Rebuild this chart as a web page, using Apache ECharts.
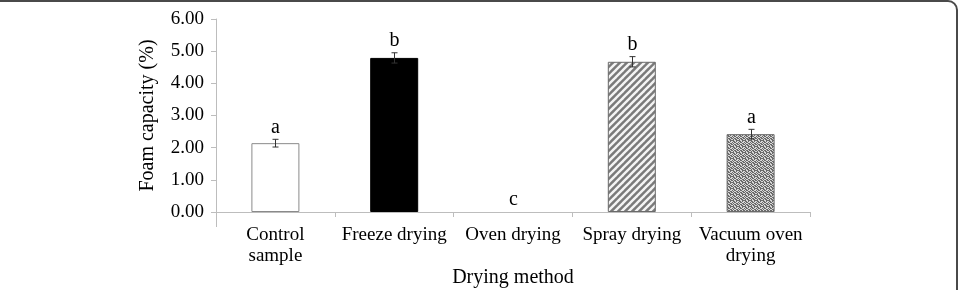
<!DOCTYPE html>
<html>
<head>
<meta charset="utf-8">
<script src="https://cdn.jsdelivr.net/npm/echarts@6/dist/echarts.min.js"></script>
<style>
  html, body { margin: 0; padding: 0; background: #fff; }
  #main { width: 959px; height: 290px; }
</style>
</head>
<body>
<div id="main"></div>
<script>
// data
const categories = ['Control\nsample', 'Freeze drying', 'Oven drying', 'Spray drying', 'Vacuum oven\ndrying'];
const foamValues = [2.14, 4.79, 0, 4.67, 2.42];
const foamErrors = [0.12, 0.16, 0, 0.16, 0.15];
const sigLetters = ['a', 'b', 'c', 'b', 'a'];
const yTicks = [0, 1, 2, 3, 4, 5, 6];

const FONT = '"Liberation Serif", "DejaVu Serif", serif';

// hatch fill for spray drying
function sprayPattern() {
    let c = document.createElement('canvas');
    c.width = 7; c.height = 7;
    let g = c.getContext('2d');
    g.fillStyle = '#7a7a7a';
    g.fillRect(0, 0, 7, 7);
    g.strokeStyle = '#f4f4f4';
    g.lineWidth = 2.4;
    for (let k = -7; k <= 14; k += 7) {
        g.beginPath();
        g.moveTo(k - 1, 8);
        g.lineTo(k + 8, -1);
        g.stroke();
    }
    return c;
}

// speckled fill for vacuum oven drying
function vacuumPattern() {
    let map = [
        '101101',
        '010110',
        '110011',
        '011010',
        '101100',
        '010011'
    ];
    let c = document.createElement('canvas');
    c.width = 6; c.height = 6;
    let g = c.getContext('2d');
    for (let y = 0; y < 6; y++) {
        for (let x = 0; x < 6; x++) {
            g.fillStyle = map[y][x] === '1' ? '#6a6a6a' : '#d8d8d8';
            g.fillRect(x, y, 1, 1);
        }
    }
    return c;
}

const barStyles = [
    { color: '#ffffff', borderColor: '#8a8a8a', borderWidth: 1 },
    { color: '#000000', borderColor: '#000000', borderWidth: 1 },
    { color: '#ffffff', borderColor: '#8a8a8a', borderWidth: 0 },
    { color: { image: sprayPattern(), repeat: 'repeat' }, borderColor: '#6a6a6a', borderWidth: 1 },
    { color: { image: vacuumPattern(), repeat: 'repeat' }, borderColor: '#6a6a6a', borderWidth: 1 }
];

let chart = echarts.init(document.getElementById('main'));
let option = {
    animation: false,
    backgroundColor: '#fff',
    grid: { left: 216, right: 149, top: 19, bottom: 78, outerBoundsMode: 'none', containLabel: false },
    xAxis: {
        type: 'category',
        data: categories,
        name: 'Drying method',
        nameLocation: 'middle',
        nameGap: 56,
        nameMoveOverlap: false,
        nameTextStyle: { fontFamily: FONT, fontSize: 20, color: '#000' },
        axisLine: { lineStyle: { color: '#bdbdbd', width: 1 } },
        axisTick: { show: true, length: 5, lineStyle: { color: '#bdbdbd' } },
        axisLabel: { fontFamily: FONT, fontSize: 19, color: '#000', margin: 13, lineHeight: 21, interval: 0 }
    },
    yAxis: {
        type: 'value',
        min: 0,
        max: 6,
        interval: 1,
        name: 'Foam capacity (%)',
        nameLocation: 'middle',
        nameGap: 58,
        nameMoveOverlap: false,
        nameTextStyle: { fontFamily: FONT, fontSize: 20, color: '#000' },
        axisLine: { show: true, lineStyle: { color: '#bdbdbd', width: 1 } },
        axisTick: { show: true, length: 5, lineStyle: { color: '#bdbdbd' } },
        splitLine: { show: false },
        axisLabel: {
            fontFamily: FONT, fontSize: 19, color: '#000', margin: 12,
            formatter: v => yTicks.indexOf(v) >= 0 ? v.toFixed(2) : ''
        }
    },
    graphic: [
        // y axis line runs a little below zero
        { type: 'line', shape: { x1: 216.5, y1: 212, x2: 216.5, y2: 227 }, style: { stroke: '#bdbdbd', lineWidth: 1 } },
        // figure frame (top and right edges visible)
        { type: 'rect', shape: { x: -20, y: 1, width: 977, height: 330, r: 9 }, style: { fill: 'none', stroke: '#4a4a4a', lineWidth: 2 } }
    ],
    series: [
        {
            type: 'bar',
            barWidth: 48,
            data: foamValues.map((v, i) => ({ value: v, itemStyle: barStyles[i] }))
        },
        {
            type: 'custom',
            z: 10,
            data: foamValues.map((v, i) => [i, v, foamErrors[i]]),
            renderItem: function (params, api) {
                let i = api.value(0), v = api.value(1), e = api.value(2);
                let top = api.coord([i, v + e]);
                let bot = api.coord([i, v - e]);
                let x = Math.round(top[0]) + 0.5;
                let children = [];
                if (e > 0) {
                    let ls = { stroke: '#333', lineWidth: 1 };
                    children.push({ type: 'line', shape: { x1: x, y1: top[1], x2: x, y2: bot[1] }, style: ls });
                    children.push({ type: 'line', shape: { x1: x - 3, y1: top[1], x2: x + 3, y2: top[1] }, style: ls });
                    children.push({ type: 'line', shape: { x1: x - 3, y1: bot[1], x2: x + 3, y2: bot[1] }, style: ls });
                }
                children.push({
                    type: 'text',
                    style: {
                        text: sigLetters[params.dataIndex],
                        x: x, y: top[1] - 2,
                        align: 'center', verticalAlign: 'bottom',
                        font: '20px ' + FONT, fill: '#000'
                    }
                });
                return { type: 'group', children: children };
            }
        }
    ]
};
chart.setOption(option);
window.addEventListener('resize', function () {
    chart.resize();
});
</script>
</body>
</html>
